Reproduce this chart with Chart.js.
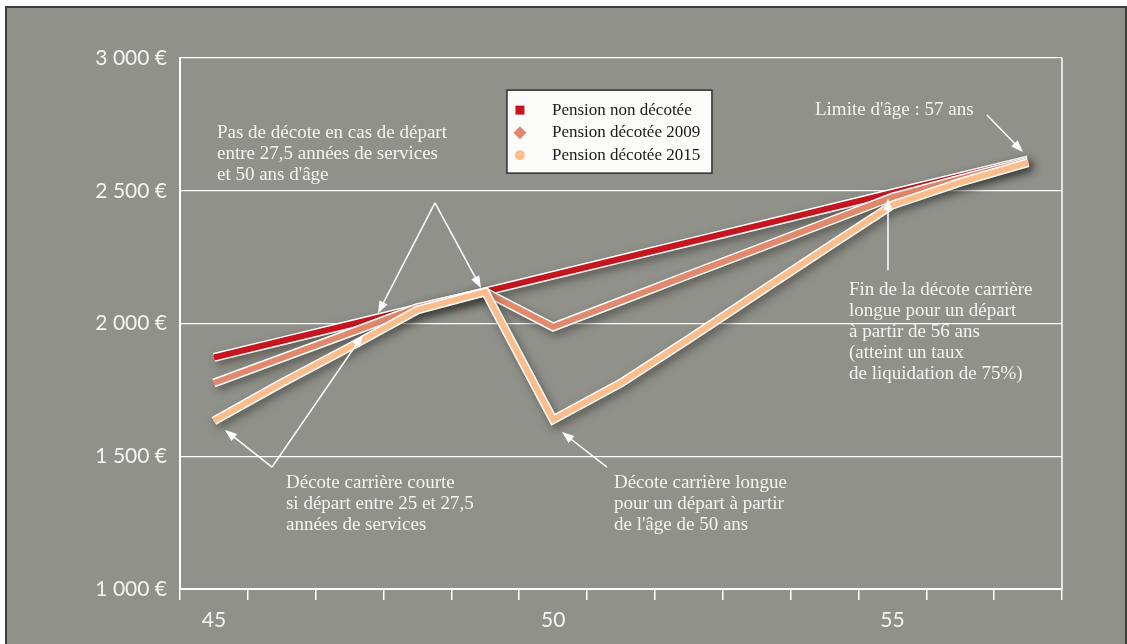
<!DOCTYPE html>
<html lang="fr">
<head>
<meta charset="utf-8">
<title>Pension décotée</title>
<script src="https://cdn.jsdelivr.net/npm/chart.js@4.4.1/dist/chart.umd.min.js"></script>
<style>
    html, body { margin: 0; padding: 0; background: #fff; }
    #wrap { width: 1127px; height: 644px; }
</style>
</head>
<body>
<div id="wrap"><canvas id="chart" width="1127" height="644"></canvas></div>
<script>
// ===== DATA =====
const ages = ["45", "46", "47", "48", "49", "50", "51", "52", "53", "54", "55", "56", "57"];
const shownAges = ["45", "50", "55"];
const yTicks = [1000, 1500, 2000, 2500, 3000];

const pensionNonDecotee = [1872, 1934, 1996, 2058, 2120, 2182, 2244, 2306, 2368, 2430, 2492, 2554, 2616];
const pensionDecotee2009 = [1776, 1870, 1964, 2060, 2119, 1987, 2085, 2183, 2280, 2378, 2476, 2545, 2612];
const pensionDecotee2015 = [1633, 1776, 1911, 2051, 2119, 1638, 1776, 1942, 2111, 2280, 2446, 2532, 2606];

const seriesLabels = ["Pension non décotée", "Pension décotée 2009", "Pension décotée 2015"];

// ===== STYLE =====
const BG = "#91918b";
const TXT = "#f4f4f0";
const RED = "#c5161f";
const ORANGE = "#e0896d";
const PEACH = "#fcbd8c";
const SERIF = "'Liberation Serif', 'DejaVu Serif', serif";
const SANS = "Lato, 'Open Sans', sans-serif";

// annotations, placed in data space (x = index of age, y = euros)
const notes = [
    { x: 0.045, y: 2717, lines: ["Pas de décote en cas de départ", "entre 27,5 années de services", "et 50 ans d'âge"] },
    { x: 1.062, y: 1399, lines: ["Décote carrière courte", "si départ entre 25 et 27,5", "années de services"] },
    { x: 5.896, y: 1399, lines: ["Décote carrière longue", "pour un départ à partir", "de l'âge de 50 ans"] },
    { x: 9.36, y: 2126, lines: ["Fin de la décote carrière", "longue pour un départ", "à partir de 56 ans", "(atteint un taux", "de liquidation de 75%)"] },
    { x: 8.859, y: 2804, lines: ["Limite d'âge : 57 ans"] }
];

const arrows = [
    { from: [3.258, 2454], to: [2.418, 2039] },
    { from: [3.258, 2454], to: [3.936, 2134] },
    { from: [0.856, 1459], to: [0.163, 1599] },
    { from: [0.856, 1459], to: [2.197, 1957] },
    { from: [5.793, 1459], to: [5.13, 1591] },
    { from: [9.935, 2201], to: [9.935, 2472] },
    { from: [11.394, 2785], to: [11.924, 2646] }
];

const legendAnchor = [4.319, 2879];

// ===== DATASETS =====
function outline(data, order) {
    return { data, outline: true, borderColor: "#ffffff", borderWidth: 9, order,
             pointRadius: 0, borderJoinStyle: "miter", tension: 0 };
}
function colored(label, data, color, order, marker) {
    return { label, data, borderColor: color, backgroundColor: color, borderWidth: 6, order,
             marker, pointRadius: 0, borderJoinStyle: "miter", tension: 0 };
}

const datasets = [
    outline(pensionNonDecotee, 6),
    colored(seriesLabels[0], pensionNonDecotee, RED, 5, "rect"),
    outline(pensionDecotee2009, 4),
    colored(seriesLabels[1], pensionDecotee2009, ORANGE, 3, "diamond"),
    outline(pensionDecotee2015, 2),
    colored(seriesLabels[2], pensionDecotee2015, PEACH, 1, "circle")
];

// ===== PLUGINS =====
const background = {
    id: "background",
    beforeDraw(chart) {
        const ctx = chart.ctx;
        ctx.save();
        ctx.fillStyle = "#ffffff";
        ctx.fillRect(0, 0, chart.width, chart.height);
        ctx.fillStyle = BG;
        ctx.fillRect(6, 7, chart.width - 7, chart.height);
        ctx.strokeStyle = "#3c3c3a";
        ctx.lineWidth = 2;
        ctx.strokeRect(6, 7, chart.width - 7, chart.height + 4);
        ctx.restore();
    }
};

const frame = {
    id: "frame",
    beforeDatasetsDraw(chart) {
        const { ctx, chartArea: a } = chart;
        ctx.save();
        ctx.strokeStyle = "#ffffff";
        ctx.lineWidth = 1.5;
        ctx.beginPath();
        ctx.moveTo(a.right, a.top);
        ctx.lineTo(a.right, a.bottom);
        ctx.stroke();
        ctx.restore();
    }
};

const shadow = {
    id: "shadow",
    beforeDatasetDraw(chart, args) {
        if (!args.meta._dataset.outline) return;
        const ctx = chart.ctx;
        ctx.save();
        ctx.shadowColor = "rgba(45, 45, 40, 0.55)";
        ctx.shadowBlur = 8;
        ctx.shadowOffsetX = 3;
        ctx.shadowOffsetY = 4;
    },
    afterDatasetDraw(chart, args) {
        if (!args.meta._dataset.outline) return;
        chart.ctx.restore();
    }
};

function arrowHead(ctx, x1, y1, x2, y2) {
    const ang = Math.atan2(y2 - y1, x2 - x1);
    const len = 12, half = 4.5;
    ctx.beginPath();
    ctx.moveTo(x2, y2);
    ctx.lineTo(x2 - len * Math.cos(ang) + half * Math.sin(ang), y2 - len * Math.sin(ang) - half * Math.cos(ang));
    ctx.lineTo(x2 - len * Math.cos(ang) - half * Math.sin(ang), y2 - len * Math.sin(ang) + half * Math.cos(ang));
    ctx.closePath();
    ctx.fill();
}

const annotations = {
    id: "annotations",
    afterDatasetsDraw(chart) {
        const ctx = chart.ctx;
        const sx = chart.scales.x, sy = chart.scales.y;
        ctx.save();
        ctx.strokeStyle = "#ffffff";
        ctx.fillStyle = "#ffffff";
        ctx.lineWidth = 1.5;
        arrows.forEach(a => {
            const x1 = sx.getPixelForValue(a.from[0]), y1 = sy.getPixelForValue(a.from[1]);
            const x2 = sx.getPixelForValue(a.to[0]), y2 = sy.getPixelForValue(a.to[1]);
            const ang = Math.atan2(y2 - y1, x2 - x1);
            ctx.beginPath();
            ctx.moveTo(x1, y1);
            ctx.lineTo(x2 - 8 * Math.cos(ang), y2 - 8 * Math.sin(ang));
            ctx.stroke();
            arrowHead(ctx, x1, y1, x2, y2);
        });

        ctx.fillStyle = TXT;
        ctx.font = "19px " + SERIF;
        ctx.textAlign = "left";
        ctx.textBaseline = "middle";
        notes.forEach(n => {
            const x = sx.getPixelForValue(n.x), y = sy.getPixelForValue(n.y);
            n.lines.forEach((line, i) => ctx.fillText(line, x, y + i * 21));
        });
        ctx.restore();
    }
};

const boxLegend = {
    id: "boxLegend",
    afterDraw(chart) {
        const ctx = chart.ctx;
        const x = chart.scales.x.getPixelForValue(legendAnchor[0]);
        const y = chart.scales.y.getPixelForValue(legendAnchor[1]);
        ctx.save();
        ctx.fillStyle = "#fbfbf9";
        ctx.fillRect(x, y, 205, 83);
        ctx.strokeStyle = "#2e2e2e";
        ctx.lineWidth = 1.5;
        ctx.strokeRect(x, y, 205, 83);
        const items = chart.data.datasets.filter(d => d.label);
        ctx.font = "17px " + SERIF;
        ctx.textBaseline = "middle";
        items.forEach((d, i) => {
            const cy = y + 20 + i * 22.5, cx = x + 13;
            ctx.fillStyle = d.borderColor;
            ctx.beginPath();
            if (d.marker === "rect") {
                ctx.rect(cx - 4.5, cy - 4.5, 9, 9);
            } else if (d.marker === "diamond") {
                ctx.moveTo(cx, cy - 6.5); ctx.lineTo(cx + 6.5, cy);
                ctx.lineTo(cx, cy + 6.5); ctx.lineTo(cx - 6.5, cy);
                ctx.closePath();
            } else {
                ctx.arc(cx, cy, 5, 0, Math.PI * 2);
            }
            ctx.fill();
            ctx.fillStyle = "#1c1c1c";
            ctx.fillText(d.label, x + 45, cy);
        });
        ctx.restore();
    }
};

// ===== CHART =====
const chart = new Chart(document.getElementById("chart"), {
    type: "line",
    data: { labels: ages, datasets },
    plugins: [background, frame, shadow, annotations, boxLegend],
    options: {
        responsive: false,
        animation: false,
        events: [],
        layout: { padding: { left: 0, right: 65, top: 58, bottom: 0 } },
        plugins: { legend: { display: false }, tooltip: { enabled: false }, title: { display: false } },
        scales: {
            x: {
                offset: true,
                afterFit: s => { s.height = 55; },
                grid: { offset: true, drawOnChartArea: false, color: "#ffffff", tickLength: 11, lineWidth: 1.5 },
                border: { color: "#ffffff", width: 2 },
                ticks: {
                    autoSkip: false, maxRotation: 0, padding: 8,
                    color: TXT, font: { family: SANS, size: 21 },
                    callback: (v, i) => shownAges.includes(ages[i]) ? ages[i] : ""
                }
            },
            y: {
                min: yTicks[0], max: yTicks[yTicks.length - 1],
                afterFit: s => { s.width = 180; },
                afterBuildTicks: s => { s.ticks = yTicks.map(v => ({ value: v })); },
                grid: { color: "#ffffff", lineWidth: 1.2, drawTicks: false },
                border: { color: "#ffffff", width: 2 },
                ticks: {
                    padding: 13, color: TXT, font: { family: SANS, size: 21 },
                    callback: v => String(v).replace(/\B(?=(\d{3})+(?!\d))/g, " ") + " €"
                }
            }
        }
    }
});
</script>
</body>
</html>
